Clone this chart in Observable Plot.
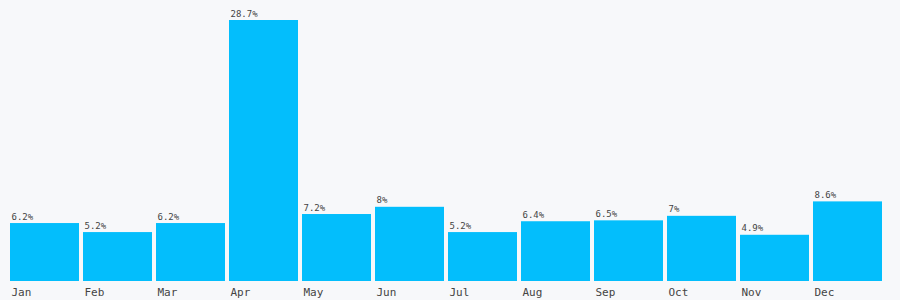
<!DOCTYPE html>
<html>
<head>
<meta charset="utf-8">
<script src="https://cdn.jsdelivr.net/npm/d3@7"></script>
<script src="https://cdn.jsdelivr.net/npm/@observablehq/plot@0.6"></script>
<style>
  html, body { margin: 0; padding: 0; background: #f7f8fa; }
  #chart svg { display: block; }
</style>
</head>
<body>
<div id="chart"></div>
<script>
const months = ["Jan","Feb","Mar","Apr","May","Jun","Jul","Aug","Sep","Oct","Nov","Dec"];
const shares = [6.2, 5.2, 6.2, 28.7, 7.2, 8, 5.2, 6.4, 6.5, 7, 4.9, 8.6];

const data = months.map((m, i) => ({month: m, value: shares[i]}));

const W = 900, H = 300;
const x = d3.scaleBand().domain(months).range([10, 882]).paddingInner(4 / 73).paddingOuter(0);
const half = x.bandwidth() / 2;

const chart = Plot.plot({
  width: W,
  height: H,
  marginTop: 20,
  marginBottom: 21,
  marginLeft: 10,
  marginRight: 18,
  style: {background: "#f7f8fa", fontFamily: "DejaVu Sans Mono, monospace", color: "#444"},
  x: {domain: months, paddingInner: 4 / 73, paddingOuter: 0, axis: null},
  y: {domain: [0, 28.7], axis: null},
  marks: [
    Plot.barY(data, {x: "month", y: "value", fill: "#03befc", insetBottom: -2}),
    Plot.text(data, {
      x: "month", y: "value",
      text: d => d.value + "%",
      textAnchor: "start", lineAnchor: "bottom",
      dx: -half + 1, dy: -4,
      fontSize: 9, fill: "#444"
    }),
    Plot.text(data, {
      x: "month", y: 0,
      text: "month",
      textAnchor: "start", lineAnchor: "bottom",
      dx: -half + 1, dy: 16,
      fontSize: 11, fill: "#444"
    })
  ]
});
document.getElementById("chart").appendChild(chart);
</script>
</body>
</html>
